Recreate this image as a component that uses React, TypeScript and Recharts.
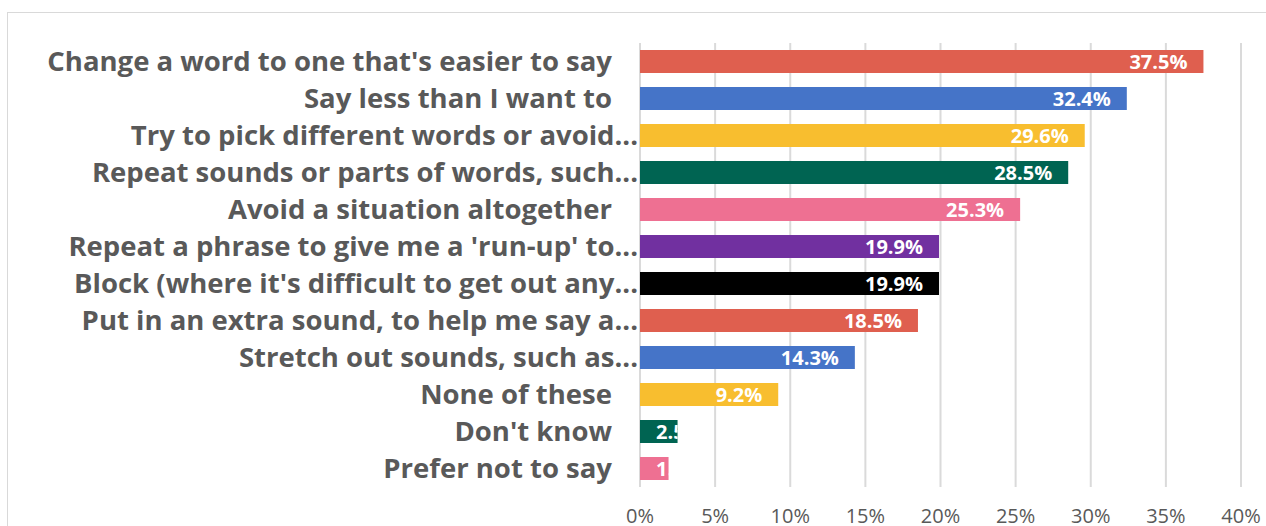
import { Bar, BarChart, CartesianGrid, Cell, LabelList, XAxis, YAxis } from "recharts";

const categories = [
  "Change a word to one that's easier to say",
  "Say less than I want to",
  "Try to pick different words or avoid...",
  "Repeat sounds or parts of words, such...",
  "Avoid a situation altogether",
  "Repeat a phrase to give me a 'run-up' to...",
  "Block (where it's difficult to get out any...",
  "Put in an extra sound, to help me say a...",
  "Stretch out sounds, such as...",
  "None of these",
  "Don't know",
  "Prefer not to say",
];

const values = [37.5, 32.4, 29.6, 28.5, 25.3, 19.9, 19.9, 18.5, 14.3, 9.2, 2.5, 1.9];

const xTicks = [0, 5, 10, 15, 20, 25, 30, 35, 40];

const colors = [
  "#df5f4f",
  "#4574c8",
  "#f8be2f",
  "#006452",
  "#ee7092",
  "#7130a0",
  "#000000",
  "#df5f4f",
  "#4574c8",
  "#f8be2f",
  "#006452",
  "#ee7092",
];

const data = categories.map((name, i) => ({ name, value: values[i] }));

const textGray = "#595959";

function CategoryTick(props: any) {
  const { x, y, payload } = props;
  const label: string = payload.value;
  const cut = label.endsWith("...");
  return (
    <text
      x={x + (cut ? 6 : -20)}
      y={y}
      dy="0.36em"
      textAnchor="end"
      fill={textGray}
      fontSize={27.5}
      fontWeight={700}
    >
      {label}
    </text>
  );
}

function ValueLabel(props: any) {
  const { x, y, width, height, value, index } = props;
  const text = `${Number(value).toFixed(1)}%`;
  const cy = y + height / 2;
  if (width > 70) {
    return (
      <text x={x + width - 16} y={cy} dy="0.36em" textAnchor="end" fill="#ffffff" fontSize={20} fontWeight={700}>
        {text}
      </text>
    );
  }
  const id = `lbl-clip-${index}`;
  return (
    <g>
      <defs>
        <clipPath id={id}>
          <rect x={x} y={y} width={width} height={height} />
        </clipPath>
      </defs>
      <text x={x + 16} y={cy} dy="0.36em" textAnchor="start" fill="#ffffff" fontSize={20} fontWeight={700} clipPath={`url(#${id})`}>
        {text}
      </text>
    </g>
  );
}

export default function App() {
  return (
    <div
      style={{
        position: "fixed",
        left: 0,
        top: 0,
        width: 1266,
        height: 526,
        overflow: "hidden",
        background: "#ffffff",
        fontFamily: "'Open Sans', sans-serif",
      }}
    >
      <div
        style={{
          position: "absolute",
          left: 7,
          top: 12,
          width: 1300,
          height: 600,
          borderLeft: "1px solid #d9d9d9",
          borderTop: "1px solid #d9d9d9",
        }}
      />
      <div style={{ position: "absolute", left: 0, top: 0 }}>
        <BarChart
          width={1266}
          height={526}
          data={data}
          layout="vertical"
          margin={{ top: 43, right: 25, bottom: 9, left: 0 }}
        >
          <CartesianGrid horizontal={false} stroke="#dadada" strokeWidth={2} />
          <XAxis
            type="number"
            domain={[0, 40]}
            ticks={xTicks}
            tickFormatter={(v: number) => `${v}%`}
            axisLine={false}
            tickLine={false}
            height={30}
            tickMargin={16}
            tick={{ fill: textGray, fontSize: 20 }}
            interval={0}
          />
          <YAxis
            type="category"
            dataKey="name"
            width={640}
            axisLine={false}
            tickLine={false}
            tick={<CategoryTick />}
            interval={0}
          />
          <Bar dataKey="value" barSize={23} isAnimationActive={false}>
            {data.map((d, i) => (
              <Cell key={d.name} fill={colors[i]} />
            ))}
            <LabelList dataKey="value" content={<ValueLabel />} />
          </Bar>
        </BarChart>
      </div>
    </div>
  );
}
